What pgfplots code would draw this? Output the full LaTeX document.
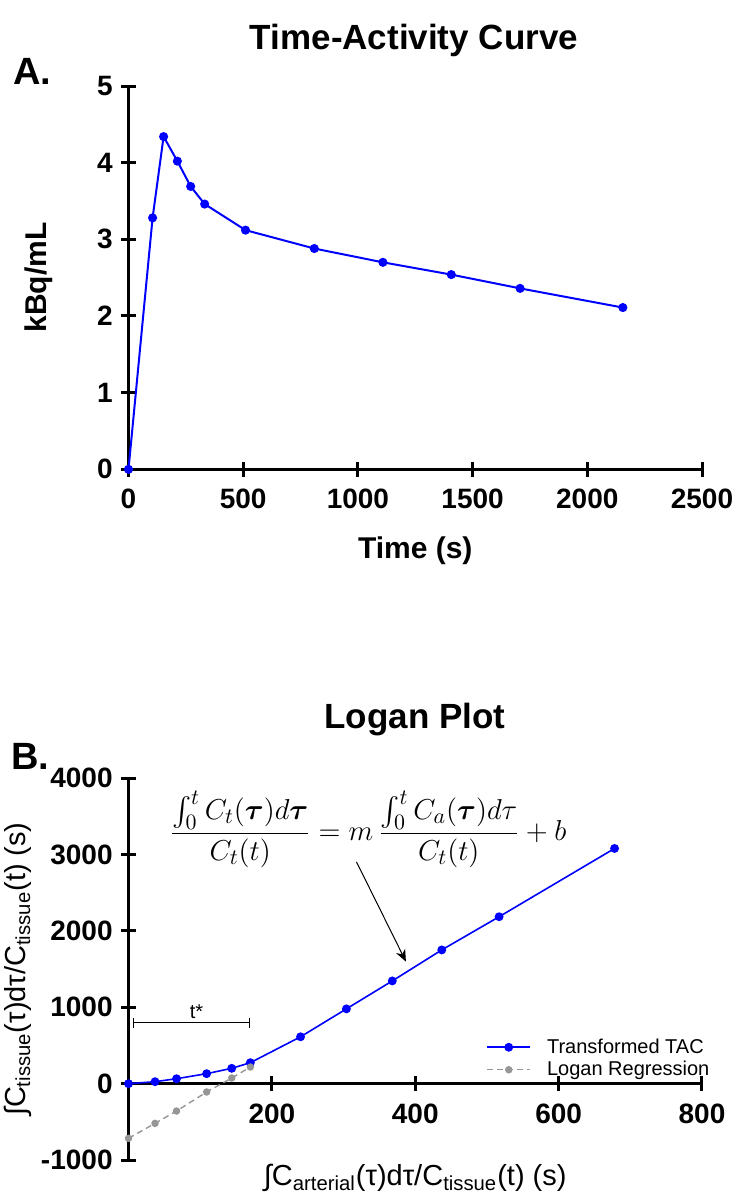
\documentclass[border=0pt]{standalone}
\usepackage{amsmath}
\usepackage{bm}
\usepackage{fontspec}
\setmainfont{Liberation Sans}
\usepackage{pgfplots}
\pgfplotsset{compat=1.18}
\usetikzlibrary{arrows.meta}
\definecolor{lgray}{RGB}{150,150,150}
\pgfplotsset{
  common/.style={
    scale only axis, clip=false,
    tick align=outside, major tick length=7.5pt,
    tick style={line width=1.5pt, black},
    minor tick num=0,
    ticklabel style={font=\fontsize{14}{16}\selectfont\bfseries, inner sep=2pt},
    xticklabel style={yshift=-4pt},
    yticklabel style={xshift=-2pt},
    /pgf/number format/assume math mode=true,
    /pgf/number format/set thousands separator={},
  },
  nolinearrows/.style={
    axis line style={-, line width=1.5pt},
    every outer x axis line/.append style={-},
    every outer y axis line/.append style={-},
    every inner x axis line/.append style={-},
    every inner y axis line/.append style={-},
  }
}
\begin{document}
\begin{tikzpicture}
\useasboundingbox (0,0) rectangle (368.5pt,-596pt);
% ---------------- Panel A ----------------
\node[font=\fontsize{19}{22}\selectfont\bfseries] at (16pt,-35.5pt) {A.};
\node[font=\fontsize{17.5}{20}\selectfont\bfseries] at (207pt,-20pt) {Time-Activity Curve};
\begin{axis}[common,
  at={(64.25pt,-234.65pt)}, anchor=south west,
  width=286.75pt, height=191.65pt,
  xmin=0, xmax=2500, ymin=0, ymax=5,
  axis lines=left, nolinearrows,
  xtick={0,500,1000,1500,2000,2500}, ytick={0,1,2,3,4,5},
  xlabel={Time (s)}, ylabel={kBq/mL},
  label style={font=\fontsize{15}{18}\selectfont\bfseries},
  xlabel style={at={(axis description cs:0.5,-0.213)}, anchor=center},
  ylabel style={at={(axis description cs:-0.157,0.5)}, anchor=center},
]
\addplot[color=blue, line width=1pt, mark=*, mark size=1.75pt,
  mark options={solid, fill=blue, draw=blue}] coordinates {
  (0,0) (105,3.28) (153,4.34) (213,4.02) (271,3.69) (332,3.46)
  (510,3.12) (810,2.88) (1109,2.70) (1407,2.54) (1707,2.36) (2155,2.11)
};
\end{axis}
% ---------------- Panel B ----------------
\node[font=\fontsize{19}{22}\selectfont\bfseries] at (15pt,-378pt) {B.};
\node[font=\fontsize{17.5}{20}\selectfont\bfseries] at (207.5pt,-360pt) {Logan Plot};
\begin{axis}[common,
  at={(64.25pt,-580pt)}, anchor=south west,
  width=286.75pt, height=190.85pt,
  xmin=0, xmax=800, ymin=-1000, ymax=4000,
  axis x line=middle, axis y line=left, nolinearrows,
  hide obscured x ticks=false, hide obscured y ticks=false,
  xtick={200,400,600,800}, ytick={-1000,0,1000,2000,3000,4000},
  xlabel={∫C\textsubscript{arterial}(τ)dτ/C\textsubscript{tissue}(t) (s)},
  ylabel={∫C\textsubscript{tissue}(τ)dτ/C\textsubscript{tissue}(t) (s)},
  label style={font=\fontsize{14.5}{16}\selectfont},
  xlabel style={at={(axis description cs:0.5,-0.047)}, anchor=center},
  ylabel style={at={(axis description cs:-0.193,0.5)}, anchor=center},
  legend style={at={(axis description cs:0.62,0.335)}, anchor=north west,
    draw=none, fill=none, font=\fontsize{10}{11}\selectfont,
    row sep=-1.5pt, inner sep=1pt, column sep=6pt},
  legend cell align=left,
  legend image code/.code={\draw[mark repeat=2,mark phase=2,#1] plot coordinates {(0pt,0pt)(10.75pt,0pt)(21.5pt,0pt)};},
]
\addplot[color=blue, line width=0.8pt, mark=*, mark size=1.8pt,
  mark options={solid, fill=blue, draw=blue}] coordinates {
  (0,0) (37,26) (67,65) (109,131) (144,201) (170,275) (240,614)
  (304,980) (368,1346) (437,1752) (517,2187) (678,3081)
};
\addlegendentry{Transformed TAC}
\addplot[color=lgray, line width=0.7pt, dash pattern=on 3pt off 2pt, mark=*, mark size=1.5pt,
  mark options={solid, fill=lgray, draw=lgray}] coordinates {
  (0,-716) (37,-520) (67,-358) (109,-109) (144,74) (170,218)
};
\addlegendentry{Logan Regression}
% t* bracket
\draw[line width=0.6pt, {Bar[width=5pt]}-{Bar[width=5pt]}] (axis cs:6,798) -- (axis cs:170,798);
\node[font=\fontsize{10}{12}\selectfont] at (axis cs:95,945) {t*};
% equation
\node[font=\fontsize{15.5}{18}\selectfont] at (axis cs:334,3330)
  {$\dfrac{\int_0^t C_t(\bm{\tau})d\bm{\tau}}{C_t(t)} = m\,\dfrac{\int_0^t C_a(\bm{\tau})d\tau}{C_t(t)} + b$};
\draw[line width=0.5pt, -{Stealth[length=6pt,width=5pt]}] (axis cs:318,2906) -- (axis cs:387,1599);
\end{axis}
\end{tikzpicture}
\end{document}
